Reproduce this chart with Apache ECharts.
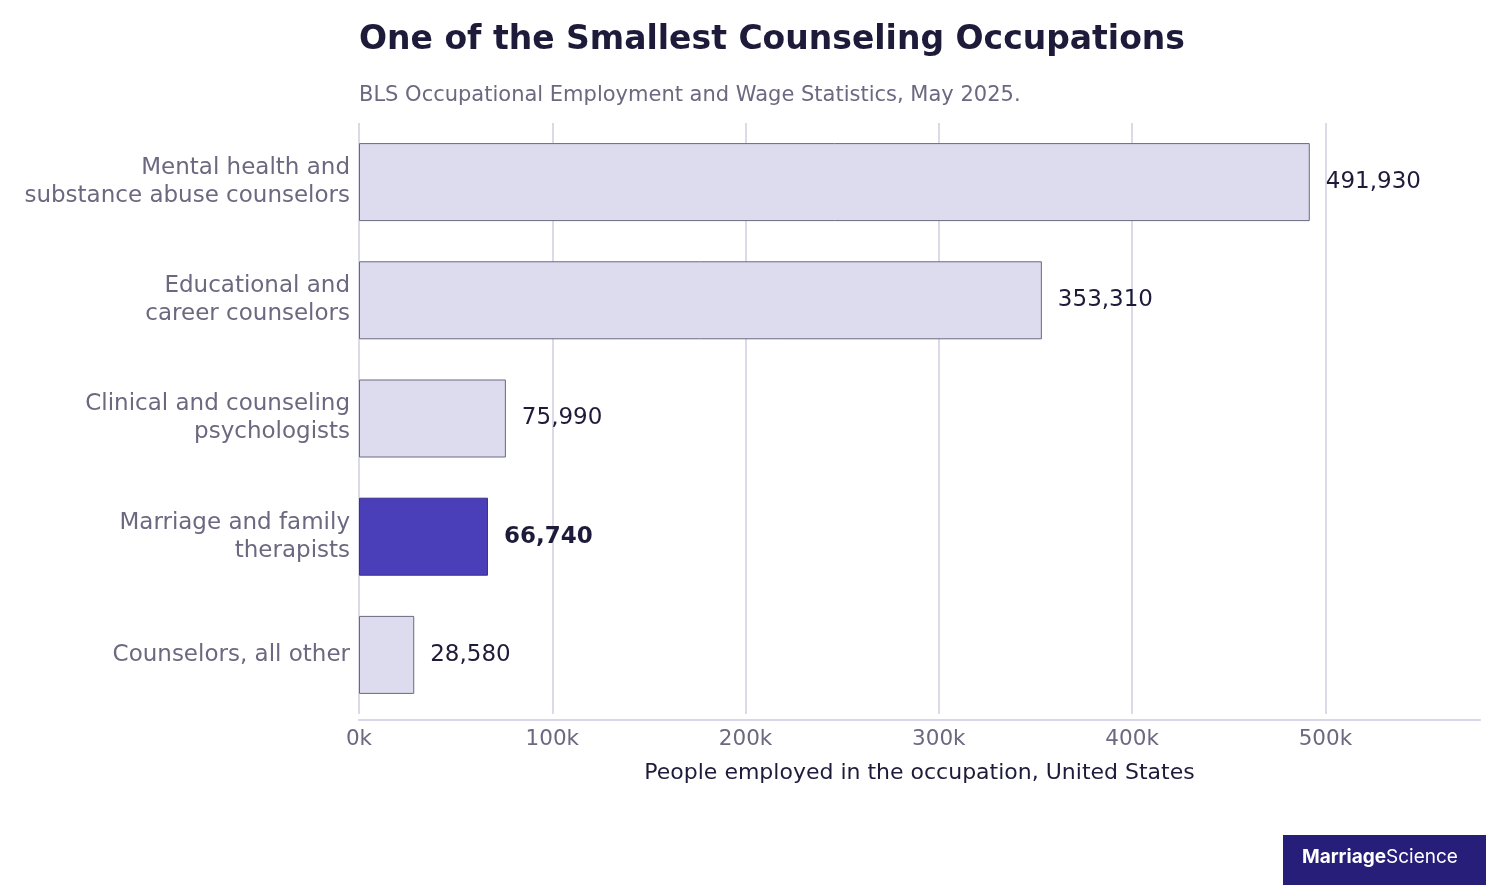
<!DOCTYPE html>
<html><head><meta charset="utf-8">
<script src="https://cdn.jsdelivr.net/npm/echarts@6/dist/echarts.min.js"></script>
<style>html,body{margin:0;background:#fff}#c{width:1504px;height:896px}</style>
</head><body><div id="c"></div>
<script>
const categories = ["Mental health and\nsubstance abuse counselors","Educational and\ncareer counselors","Clinical and counseling\npsychologists","Marriage and family\ntherapists","Counselors, all other"];
const values = [491930, 353310, 75990, 66740, 28580];
const highlight = [false, false, false, true, false];
const font = "DejaVu Sans";
const chart = echarts.init(document.getElementById('c'));
chart.setOption({
  animation:false,
  textStyle:{fontFamily:font},
  title:[{text:"One of the Smallest Counseling Occupations",left:354,top:19,textStyle:{fontFamily:font,fontSize:33,fontWeight:'bold',color:'#1e1b3a'}},
         {text:"BLS Occupational Employment and Wage Statistics, May 2025.",left:354,top:80,textStyle:{fontFamily:font,fontSize:21,fontWeight:'normal',color:'#6b6880'}}],
  grid:{left:359,right:24,top:123,bottom:182,containLabel:false},
  xAxis:{type:'value',min:0,max:580000,interval:100000,offset:6,
    axisLabel:{formatter:v=>(v/1000)+'k',fontSize:21.5,color:'#6b6880',margin:8,showMaxLabel:false},
    axisLine:{show:true,lineStyle:{color:'#d8d6ea',width:2}},axisTick:{show:false},
    splitLine:{showMaxLine:false,lineStyle:{color:'#dcdae8',width:2}},
    name:"People employed in the occupation, United States",nameLocation:'middle',nameGap:42,
    nameTextStyle:{fontSize:22,color:'#1e1b3a'}},
  yAxis:{type:'category',inverse:true,data:categories,
    axisLine:{show:false},axisTick:{show:false},
    axisLabel:{fontSize:23,color:'#6b6880',lineHeight:28,margin:9,align:'right',padding:[6,0,0,0]}},
  series:[{type:'bar',barWidth:'66%',
    data:values.map((v,i)=>({value:v,
      itemStyle:{color:highlight[i]?'#4a3fb8':'#dcdcee',borderColor:highlight[i]?'#3a3190':'#6b6880',borderWidth:1},
      label:{fontWeight:highlight[i]?'bold':'normal'}})),
    label:{show:true,position:'right',distance:16,fontSize:23,color:'#1e1b3a',
      formatter:p=>p.value.toLocaleString('en-US')}}],
  graphic:[{type:'rect',left:1283,top:835,shape:{width:203,height:50},style:{fill:'#271e7a'}},
    {type:'text',left:1302,top:848,style:{text:'{b|Marriage}{r|Science}',fill:'#fff',
      rich:{b:{fontFamily:'Inter',fontWeight:'bold',fontSize:19,fill:'#fff'},r:{fontFamily:'Inter',fontSize:19,fill:'#fff'}}}}]
});
</script></body></html>
